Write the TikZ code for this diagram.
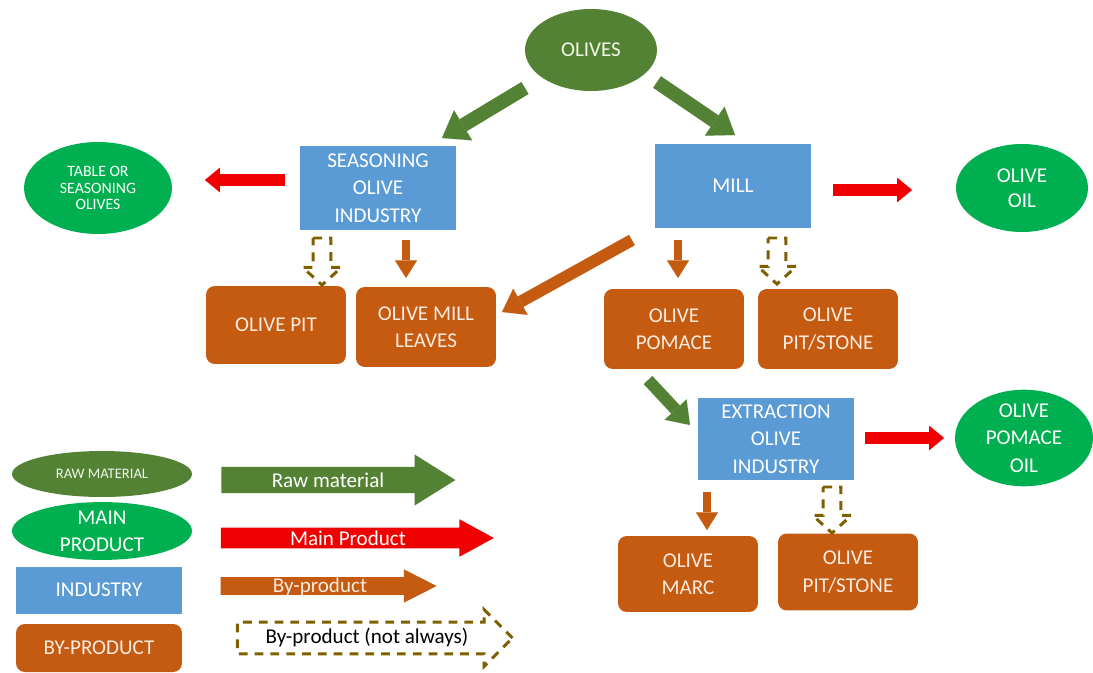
\documentclass[tikz,border=0pt]{standalone}
\usepackage{fontspec}
\setmainfont{Carlito}
\usetikzlibrary{shapes,arrows.meta,calc}
\definecolor{rawgreen}{RGB}{84,130,53}
\definecolor{maingreen}{RGB}{0,176,80}
\definecolor{indblue}{RGB}{91,155,213}
\definecolor{bybrown}{RGB}{197,90,17}
\definecolor{mainred}{RGB}{240,0,0}
\definecolor{notcol}{RGB}{127,96,0}
\definecolor{paletext}{RGB}{240,248,232}
\definecolor{peach}{RGB}{252,235,222}

\begin{document}
\begin{tikzpicture}[x=0.02cm,y=-0.02cm,
	every node/.style={font=\fontsize{12}{15.5}\selectfont, text=white, align=center, inner sep=0pt},
	raw/.style={ellipse, fill=rawgreen, text=paletext},
	main/.style={ellipse, fill=maingreen},
	ind/.style={rectangle, fill=indblue, minimum width=3.14cm, minimum height=1.68cm},
	byp/.style={rectangle, rounded corners=5pt, fill=bybrown, text=peach, minimum width=2.8cm, minimum height=1.56cm},
	rawarr/.style={draw=rawgreen, line width=8pt, -{Triangle[length=14pt,width=20pt,line width=0.01pt]}},
	mainarr/.style={draw=mainred, line width=6.8pt, -{Triangle[length=8.5pt,width=14pt,line width=0.01pt]}},
	byarr/.style={draw=bybrown, line width=4.6pt, -{Triangle[length=10pt,width=12.5pt,line width=0.01pt]}},
	notalways/.style={draw=notcol, line width=1.7pt, dash pattern=on 5pt off 4pt,
		to path={let \p1=(\tikztostart), \p2=(\tikztotarget) in
			(\x1-5pt,\y1) -- (\x1+5pt,\y1) -- (\x1+5pt,\y2+10pt) -- (\x1+11pt,\y2+10pt)
			-- (\x1,\y2) -- (\x1-11pt,\y2+10pt) -- (\x1-5pt,\y2+10pt) -- cycle}},
	legarr/.style={single arrow, inner xsep=0pt, text height=8.5pt, text depth=0pt}]
	\useasboundingbox (0,0) rectangle (1093,673);

	\node[raw, minimum width=2.64cm, minimum height=1.64cm] (olives) at (591,50) {OLIVES};
	\node[ind] (seasoning) at (378,188) {SEASONING\\OLIVE\\INDUSTRY};
	\node[ind] (mill) at (733,186) {MILL};
	\node[main, minimum width=2.96cm, minimum height=1.84cm, font=\fontsize{9}{9.5}\selectfont] (table) at (98,188) {TABLE OR\\SEASONING\\OLIVES};
	\node[main, minimum width=2.64cm, minimum height=1.76cm, font=\fontsize{12}{14}\selectfont] (oil) at (1022,188) {OLIVE\\OIL};
	\node[byp] (pit) at (276,325) {OLIVE PIT};
	\node[byp, minimum height=1.6cm] (leaves) at (426,327) {OLIVE MILL\\LEAVES};
	\node[byp, minimum height=1.6cm] (pomace) at (674,329) {OLIVE\\POMACE};
	\node[byp, minimum height=1.6cm] (stone) at (828,329) {OLIVE\\PIT/STONE};
	\node[ind, minimum height=1.64cm] (extraction) at (776,439) {EXTRACTION\\OLIVE\\INDUSTRY};
	\node[main, minimum width=2.76cm, minimum height=1.72cm] (pomaceoil) at (1024,438) {OLIVE\\POMACE\\OIL};
	\node[byp, minimum height=1.52cm] (marc) at (688,574) {OLIVE\\MARC};
	\node[byp, minimum height=1.54cm] (stone2) at (848,572) {OLIVE\\PIT/STONE};

	\draw[rawarr] ($(olives)+(-66,38)$) -- ($(seasoning)+(64,-50)$);
	\draw[rawarr] ($(olives)+(66,32)$) -- ($(mill)+(2,-51)$);
	\draw[mainarr] ($(seasoning)+(-93,-8)$) -- ($(table)+(107,-8)$);
	\draw[mainarr] ($(mill)+(100,4)$) -- ($(oil)+(-110,2)$);
	\draw[mainarr] ($(extraction)+(89,-1)$) -- ($(pomaceoil)+(-80,0)$);
	\draw[byarr] ($(seasoning)+(28,52)$) -- ($(leaves)+(-20,-49)$);
	\draw[byarr, line width=6.8pt, -{Triangle[length=12pt,width=17pt,line width=0.01pt]}] ($(mill)+(-101,54)$) -- ($(leaves)+(76,-15)$);
	\draw[byarr] ($(mill)+(-55,54)$) -- ($(pomace)+(4,-51)$);
	\draw[byarr] ($(extraction)+(-69,53)$) -- ($(marc)+(19,-44)$);
	\draw[rawarr, line width=6.8pt, -{Triangle[length=12pt,width=17pt,line width=0.01pt]}] ($(pomace)+(-26,51)$) -- ($(extraction)+(-86,-14)$);
	\draw[notalways] ($(seasoning)+(-56,50)$) to ($(pit)+(46,-40)$);
	\draw[notalways] ($(mill)+(44,52)$) to ($(stone)+(-51,-45)$);
	\draw[notalways] ($(extraction)+(56,48)$) to ($(stone2)+(-16,-39)$);

	\node[raw, minimum width=3.6cm, minimum height=0.92cm, font=\fontsize{8.3}{9}\selectfont] (lgraw) at (102,474) {RAW MATERIAL};
	\node[main, minimum width=3.6cm, minimum height=1.04cm] (lgmain) at (102,531) {MAIN\\PRODUCT};
	\node[ind, minimum width=3.34cm, minimum height=0.94cm] (lgind) at (99,590) {INDUSTRY};
	\node[byp, minimum width=3.32cm, minimum height=0.96cm] (lgby) at (99,648) {BY-PRODUCT};

	\node[legarr, fill=rawgreen, minimum height=4.68cm, inner ysep=3pt, single arrow head extend=7.1pt, single arrow tip angle=64] (lgrawarr) at (328,480) {Raw material};
	\node[legarr, fill=mainred, minimum height=5.46cm, inner ysep=1.4pt, single arrow head extend=4.8pt, single arrow tip angle=57] (lgmainarr) at (348,538) {Main Product};
	\node[legarr, fill=bybrown, text=peach, minimum height=4.32cm, text height=7pt, inner ysep=1.3pt, single arrow head extend=4.5pt, single arrow tip angle=54] (lgbyarr) at (320,586) {By-product};
	\node[legarr, draw=notcol, line width=1.7pt, dash pattern=on 5pt off 4pt, text=black, minimum height=5.5cm, text depth=2.5pt, inner ysep=2.7pt, single arrow head extend=7pt] (lgnotarr) at (367,638) {By-product (not always)};
\end{tikzpicture}
\end{document}
